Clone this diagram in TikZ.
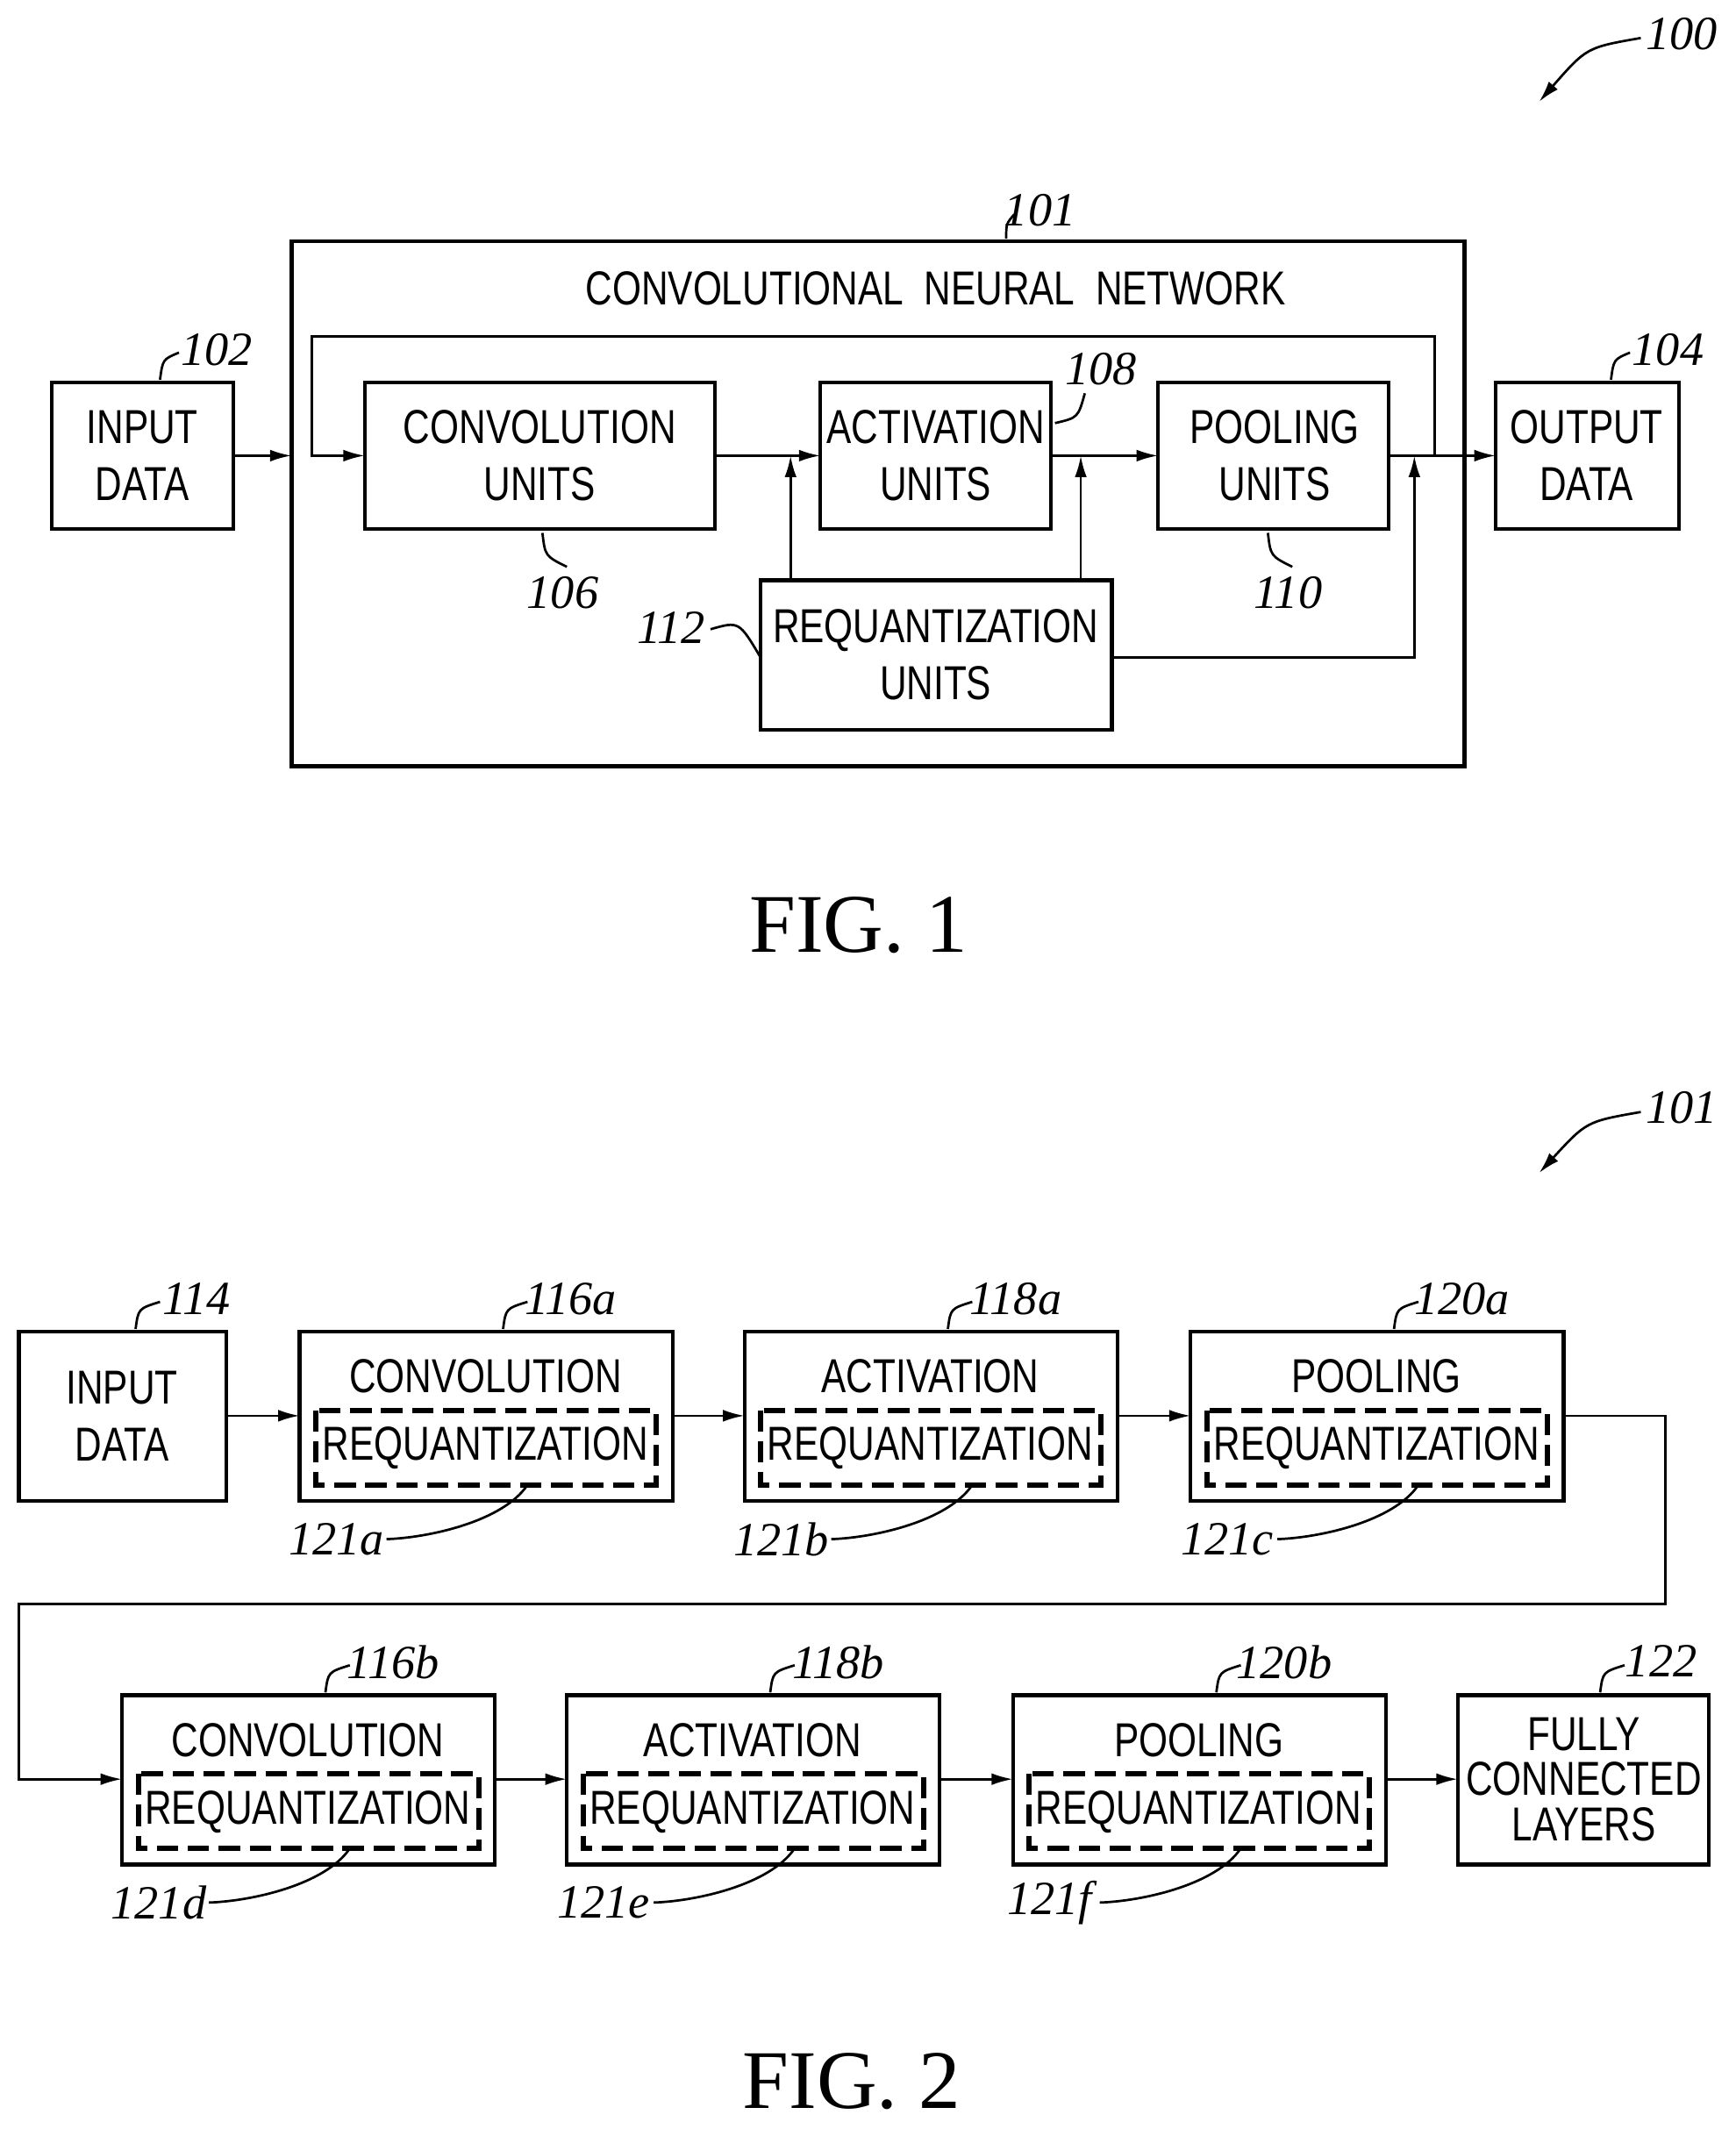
\documentclass[tikz,border=0pt]{standalone}
\usepackage{fontspec}
\setmainfont{Liberation Serif}
\newfontfamily\lab[FakeStretch=0.78]{Liberation Sans}
\usetikzlibrary{arrows.meta}
\begin{document}
\begin{tikzpicture}[x=0.02cm,y=-0.02cm,
 box/.style={draw,line width=1.6pt},
 txt/.style={font=\lab\fontsize{20}{24}\selectfont,align=center},
 num/.style={font=\itshape\fontsize{20}{22}\selectfont},
 arr/.style={line width=1pt,-{Latex[length=9pt,width=5pt]}},
 ln/.style={line width=1pt},
 dsh/.style={draw,line width=2.2pt,dash pattern=on 9pt off 4pt}]
\useasboundingbox (0,0) rectangle (1280,1570);
% FIG 1
\draw[box] (215,178) rectangle (1080,565);
\node[txt] (title) at (690,213) {CONVOLUTIONAL\ \ NEURAL\ \ NETWORK};
\draw[box] (38,282) rectangle (172,390); \node[txt] (in) at (105,336) {INPUT\\DATA};
\draw[box] (269,282) rectangle (527,390); \node[txt] (cv) at (398,336) {CONVOLUTION\\UNITS};
\draw[box] (605,282) rectangle (775,390); \node[txt] (ac) at (690,336) {ACTIVATION\\UNITS};
\draw[box] (854,282) rectangle (1024,390); \node[txt] (po) at (940,336) {POOLING\\UNITS};
\draw[box] (1103,282) rectangle (1238,390); \node[txt] (out) at (1170,336) {OUTPUT\\DATA};
\draw[box] (561,428) rectangle (820,538); \node[txt] (rq) at (690,483) {REQUANTIZATION\\UNITS};
\draw[arr] (172,336) -- (215,336);
\draw[arr] (1058,336) -- (1058,248) -- (230,248) -- (230,336) -- (269,336);
\draw[arr] (527,336) -- (605,336);
\draw[arr] (775,336) -- (854,336);
\draw[arr] (1024,336) -- (1103,336);
\draw[arr] (583,428) -- (583,336);
\draw[arr] (797,428) -- (797,336);
\draw[arr] (820,485) -- (1043,485) -- (1043,336);
\node[num] (n101) at (767,155) {101}; \draw[ln] (742,176) .. controls (742,165) .. (748,158);
\node[num] (n102) at (160,258) {102}; \draw[ln] (118,280) .. controls (120,265) .. (132,260);
\node[num] (n104) at (1230,258) {104}; \draw[ln] (1188,280) .. controls (1190,265) .. (1202,260);
\node[num] (n106) at (415,437) {106}; \draw[ln] (400,393) .. controls (402,410) .. (418,418);
\node[num] (n108) at (812,272) {108}; \draw[ln] (778,312) .. controls (795,308) .. (800,290);
\node[num] (n110) at (950,437) {110}; \draw[ln] (935,393) .. controls (937,410) .. (953,418);
\node[num] (n112) at (495,463) {112}; \draw[ln] (524,464) .. controls (545,458) .. (561,485);
\node[num] (n100) at (1240,25) {100}; \draw[arr] (1210,28) .. controls (1170,35) .. (1135,75);
\node[font=\fontsize{35}{38}\selectfont] (f1) at (633,682) {FIG. 1};
% FIG 2
\node[num] (n101b) at (1240,817) {101}; \draw[arr] (1210,820) .. controls (1170,827) .. (1135,865);
\draw[box] (14,982) rectangle (167,1107); \node[txt] (in2) at (90,1044) {INPUT\\DATA};
\node[num] (n114) at (145,958) {114}; \draw[ln] (100,980) .. controls (102,965) .. (118,960);
\foreach \x/\y/\t/\a/\b/\c in {221/982/CONVOLUTION/116a/121a/1, 549/982/ACTIVATION/118a/121b/2, 878/982/POOLING/120a/121c/3, 90/1250/CONVOLUTION/116b/121d/4, 418/1250/ACTIVATION/118b/121e/5, 747/1250/POOLING/120b/121f/6}{
 \draw[box] (\x,\y) rectangle ++(275,125);
 \node[txt] (t\c) at (\x+137,\y+33) {\t};
 \draw[dsh] (\x+12,\y+58) rectangle ++(251,55);
 \node[txt] (r\c) at (\x+137,\y+86) {REQUANTIZATION};
 \node[num] (a\c) at (\x+200,\y-24) {\a};
 \draw[ln] (\x+150,\y-2) .. controls (\x+152,\y-17) .. (\x+168,\y-22);
 \node[num] (b\c) at (\x+27,\y+153) {\b};
 \draw[ln] (\x+64,\y+153) .. controls (\x+95,\y+152) and (\x+150,\y+140) .. (\x+168,\y+113);
}
\draw[arr] (167,1044) -- (221,1044);
\draw[arr] (496,1044) -- (549,1044);
\draw[arr] (824,1044) -- (878,1044);
\draw[ln,-{Latex[length=9pt,width=5pt]}] (1153,1044) -- (1228,1044) -- (1228,1183) -- (14,1183) -- (14,1312) -- (90,1312);
\draw[arr] (365,1312) -- (418,1312);
\draw[arr] (693,1312) -- (747,1312);
\draw[arr] (1022,1312) -- (1075,1312);
\draw[box] (1075,1250) rectangle (1260,1375);
\node[txt,font=\lab\fontsize{20}{19}\selectfont] (fc) at (1168,1312) {FULLY\\CONNECTED\\LAYERS};
\node[num] (n122) at (1225,1225) {122}; \draw[ln] (1180,1248) .. controls (1182,1233) .. (1198,1228);
\node[font=\fontsize{35}{38}\selectfont] (f2) at (628,1535) {FIG. 2};
\end{tikzpicture}
\end{document}
